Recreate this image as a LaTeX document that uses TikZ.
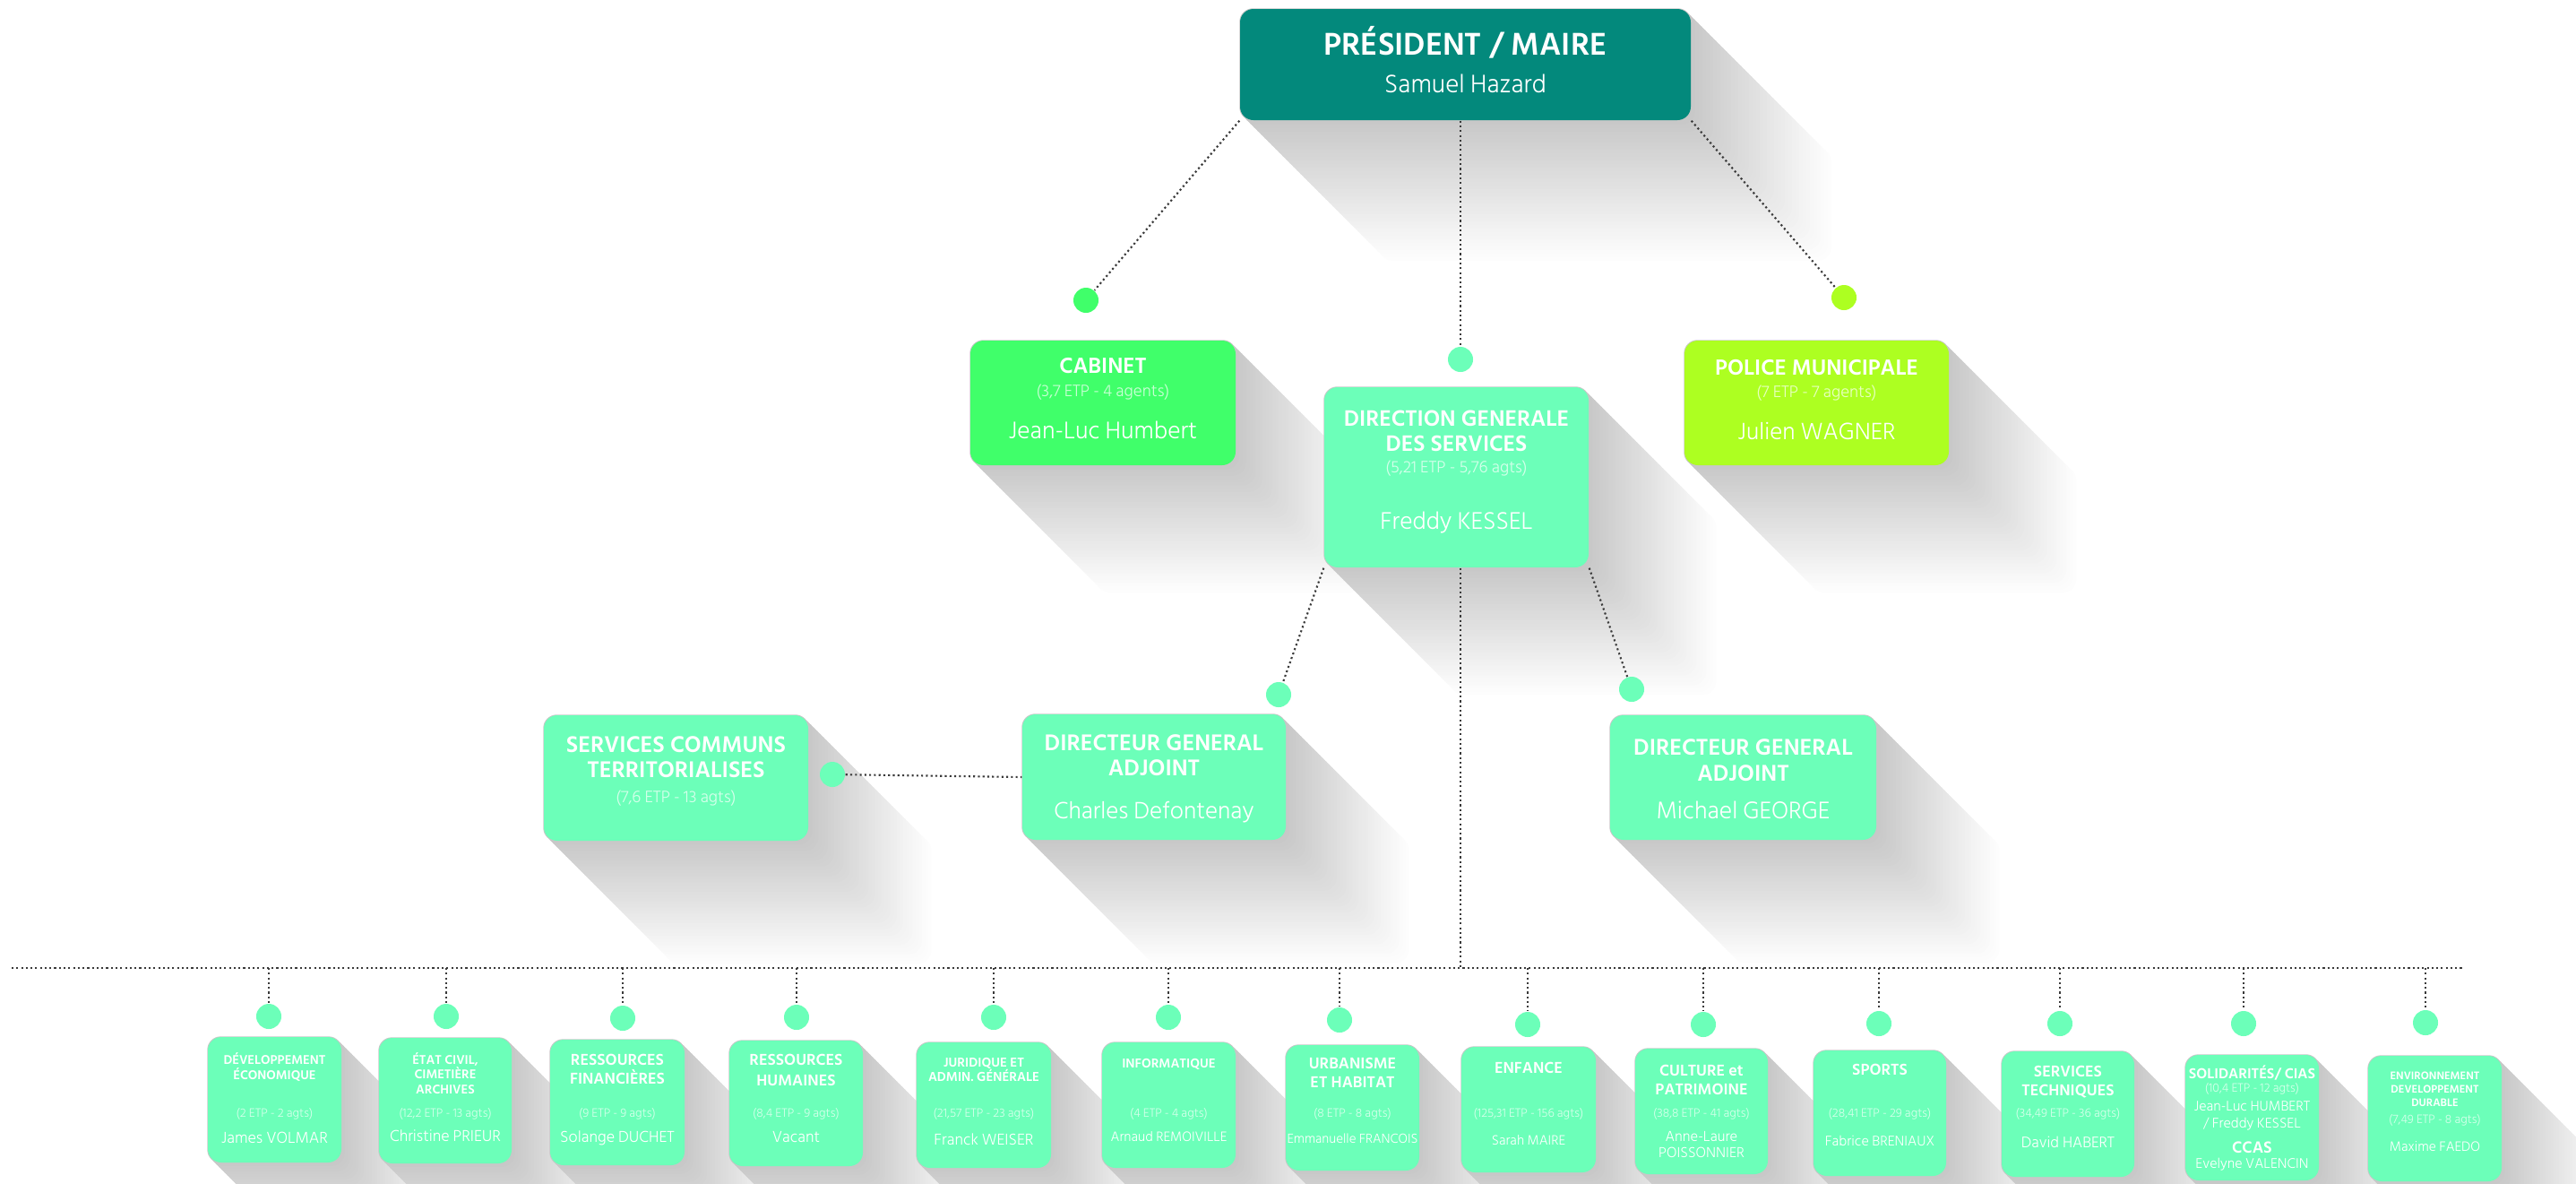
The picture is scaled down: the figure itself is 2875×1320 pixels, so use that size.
\documentclass[tikz,border=0pt]{standalone}
\usepackage{fontspec}
\setmainfont{Hind Siliguri}
\newfontfamily\lightfont{Hind Siliguri Light}
\pgfdeclarelayer{shadows}
\pgfsetlayers{shadows,main}
\definecolor{cTeal}{HTML}{03897C}
\definecolor{cCab}{HTML}{40FF6A}
\definecolor{cMint}{HTML}{6CFFB9}
\definecolor{cLime}{HTML}{ADFF21}
\definecolor{cLine}{HTML}{3A3A3A}
\newcommand\fpx[1]{\fontsize{\fpeval{#1*0.28453}pt}{\fpeval{#1*0.33}pt}\selectfont}
\newcounter{lb}
\newcommand\cardbox[6]{\node[card, fill=#6, minimum width={(#4-#2)*0.01cm}, minimum height={(#5-#3)*0.01cm}] (#1) at ({(#2+#4)/2},{(#3+#5)/2}) {};\xdef\cx{\fpeval{(#2+#4)/2}}}
\newcommand\tl[3]{\stepcounter{lb}\node[#1] (lbl\thelb) at (\cx,#2) {#3};}
\newcommand\lshadow[2]{%
  \foreach \k in {40,39,...,0}{%
    \pgfmathsetmacro\sh{#2*\k/40}%
    \pgfmathsetmacro\cc{22*(1-\k/40)}%
    \fill[black!\cc, rounded corners=0.15cm] ([shift={(\sh,\sh)}]#1.north west) rectangle ([shift={(\sh,\sh)}]#1.south east);
  }}
\tikzset{
  card/.style={rectangle, rounded corners=0.15cm, inner sep=0pt, draw=none},
  dot/.style={circle, inner sep=0pt, minimum size=0.28cm, fill=cMint},
  conn/.style={draw=cLine, line width=0.6pt, dash pattern=on 0.6pt off 0.9pt},
  lbl/.style={anchor=base, inner sep=0pt, text=white},
  ttl/.style={lbl, font=\bfseries\fpx{#1}},
  etp/.style={lbl, text opacity=0.72, font=\lightfont\fpx{#1}},
  nm/.style={lbl, font=\lightfont\fpx{#1}},
}
\begin{document}
\begin{tikzpicture}[x=0.01cm,y=-0.01cm]
\useasboundingbox (0,0) rectangle (2875,1320);
% ---------- cards ----------
\cardbox{pres}{1384}{10}{1887}{134}{cTeal}
\tl{ttl=36}{61}{PRÉSIDENT / MAIRE}
\tl{nm=29}{103}{Samuel Hazard}
\cardbox{cab}{1083}{380}{1379}{519}{cCab}
\tl{ttl=25}{416}{CABINET}
\tl{etp=19}{442}{(3,7 ETP - 4 agents)}
\tl{nm=27.5}{489}{Jean-Luc Humbert}
\cardbox{dgs}{1478}{432}{1773}{633}{cMint}
\tl{ttl=25.5}{475}{DIRECTION GENERALE}
\tl{ttl=25.5}{503}{DES SERVICES}
\tl{etp=19}{527}{(5,21 ETP - 5,76 agts)}
\tl{nm=27.5}{590}{Freddy KESSEL}
\cardbox{pol}{1880}{380}{2175}{519}{cLime}
\tl{ttl=25}{418}{POLICE MUNICIPALE}
\tl{etp=19}{443}{(7 ETP - 7 agents)}
\tl{nm=27}{490}{Julien WAGNER}
\cardbox{scom}{607}{798}{902}{938}{cMint}
\tl{ttl=26}{839}{SERVICES COMMUNS}
\tl{ttl=26}{867}{TERRITORIALISES}
\tl{etp=19}{895}{(7,6 ETP - 13 agts)}
\cardbox{dgaL}{1141}{797}{1435}{937}{cMint}
\tl{ttl=26}{837}{DIRECTEUR GENERAL}
\tl{ttl=26}{865}{ADJOINT}
\tl{nm=27}{913}{Charles Defontenay}
\cardbox{dgaR}{1797}{798}{2094}{937}{cMint}
\tl{ttl=26}{842}{DIRECTEUR GENERAL}
\tl{ttl=26}{871}{ADJOINT}
\tl{nm=27.5}{913}{Michael GEORGE}
% bottom row
\cardbox{b1}{232}{1157}{381}{1297}{cMint}
\tl{ttl=14.5}{1187}{DÉVELOPPEMENT}
\tl{ttl=14.5}{1204}{ÉCONOMIQUE}
\tl{etp=14}{1246}{(2 ETP - 2 agts)}
\tl{nm=18}{1275}{James VOLMAR}
\cardbox{b2}{423}{1158}{571}{1298}{cMint}
\tl{ttl=14.5}{1187}{ÉTAT CIVIL,}
\tl{ttl=14.5}{1203}{CIMETIÈRE}
\tl{ttl=14.5}{1220}{ARCHIVES}
\tl{etp=14}{1246}{(12,2 ETP - 13 agts)}
\tl{nm=18}{1273}{Christine PRIEUR}
\cardbox{b3}{614}{1160}{764}{1300}{cMint}
\tl{ttl=18}{1188}{RESSOURCES}
\tl{ttl=18}{1209}{FINANCIÈRES}
\tl{etp=14}{1246}{(9 ETP - 9 agts)}
\tl{nm=18}{1274}{Solange DUCHET}
\cardbox{b4}{814}{1161}{963}{1301}{cMint}
\tl{ttl=18}{1188}{RESSOURCES}
\tl{ttl=18}{1211}{HUMAINES}
\tl{etp=14}{1246}{(8,4 ETP - 9 agts)}
\tl{nm=18}{1274}{Vacant}
\cardbox{b5}{1023}{1163}{1173}{1303}{cMint}
\tl{ttl=14.8}{1190}{JURIDIQUE ET}
\tl{ttl=14.8}{1206}{ADMIN. GÉNÉRALE}
\tl{etp=14}{1246}{(21,57 ETP - 23 agts)}
\tl{nm=18}{1277}{Franck WEISER}
\cardbox{b6}{1230}{1163}{1379}{1303}{cMint}
\tl{ttl=14.8}{1191}{INFORMATIQUE}
\tl{etp=14}{1246}{(4 ETP - 4 agts)}
\tl{nm=15.5}{1273}{Arnaud REMOIVILLE}
\cardbox{b7}{1435}{1166}{1584}{1306}{cMint}
\tl{ttl=18}{1192}{URBANISME}
\tl{ttl=18}{1213}{ET HABITAT}
\tl{etp=14}{1246}{(8 ETP - 8 agts)}
\tl{nm=15}{1275}{Emmanuelle FRANCOIS}
\cardbox{b8}{1631}{1168}{1781}{1308}{cMint}
\tl{ttl=18}{1197}{ENFANCE}
\tl{etp=14}{1246}{(125,31 ETP - 156 agts)}
\tl{nm=15.5}{1277}{Sarah MAIRE}
\cardbox{b9}{1825}{1170}{1973}{1310}{cMint}
\tl{ttl=18}{1200}{CULTURE et}
\tl{ttl=18}{1221}{PATRIMOINE}
\tl{etp=14}{1246}{(38,8 ETP - 41 agts)}
\tl{nm=16.5}{1273}{Anne-Laure}
\tl{nm=16.5}{1291}{POISSONNIER}
\cardbox{b10}{2024}{1172}{2172}{1312}{cMint}
\tl{ttl=18}{1199}{SPORTS}
\tl{etp=14}{1246}{(28,41 ETP - 29 agts)}
\tl{nm=16}{1278}{Fabrice BRENIAUX}
\cardbox{b11}{2234}{1173}{2382}{1313}{cMint}
\tl{ttl=18}{1201}{SERVICES}
\tl{ttl=18}{1222}{TECHNIQUES}
\tl{etp=14}{1246}{(34,49 ETP - 36 agts)}
\tl{nm=17.5}{1280}{David HABERT}
\cardbox{b12}{2439}{1177}{2588}{1317}{cMint}
\tl{ttl=16.5}{1203}{SOLIDARITÉS/ CIAS}
\tl{etp=14}{1218}{(10,4 ETP - 12 agts)}
\tl{nm=16}{1239}{Jean-Luc HUMBERT}
\tl{nm=16}{1258}{/ Freddy KESSEL}
\tl{ttl=18.5}{1286}{CCAS}
\tl{nm=16}{1303}{Evelyne VALENCIN}
\cardbox{b13}{2643}{1178}{2792}{1318}{cMint}
\tl{ttl=12.5}{1204}{ENVIRONNEMENT}
\tl{ttl=12.5}{1219}{DEVELOPPEMENT}
\tl{ttl=12.5}{1234}{DURABLE}
\tl{etp=14}{1253}{(7,49 ETP - 8 agts)}
\tl{nm=15.5}{1284}{Maxime FAEDO}
% ---------- dots ----------
\node[dot, fill=cCab] (dcab) at (1212,335) {};
\node[dot] (ddgs) at (1630,401) {};
\node[dot, fill=cLime] (dpol) at (2058,332) {};
\node[dot] (ddgaL) at (1427,775) {};
\node[dot] (ddgaR) at (1821,769) {};
\node[dot] (dscom) at (929,864) {};
\node[dot] (d1) at (300,1134) {};
\node[dot] (d2) at (498,1134) {};
\node[dot] (d3) at (695,1136) {};
\node[dot] (d4) at (889,1135) {};
\node[dot] (d5) at (1109,1135) {};
\node[dot] (d6) at (1304,1135) {};
\node[dot] (d7) at (1495,1138) {};
\node[dot] (d8) at (1705,1143) {};
\node[dot] (d9) at (1901,1143) {};
\node[dot] (d10) at (2097,1142) {};
\node[dot] (d11) at (2299,1142) {};
\node[dot] (d12) at (2504,1142) {};
\node[dot] (d13) at (2707,1141) {};
% ---------- connectors ----------
\coordinate (hlL) at (13,1080);
\coordinate (hlR) at (2748,1080);
\draw[conn] (hlL) -- (hlR);
\draw[conn] (pres.south west) -- (dcab);
\draw[conn] (pres.south -| ddgs) -- (ddgs);
\draw[conn] (pres.south east) -- (dpol);
\draw[conn] (dgs.south west) -- (ddgaL);
\draw[conn] (dgs.south east) -- (ddgaR);
\draw[conn] (dgs.south -| ddgs) -- (hlL -| ddgs);
\draw[conn] (dscom) -- (dgaL.west);
\foreach \i in {1,...,13}{\draw[conn] (hlL -| d\i) -- (d\i);}
% ---------- long shadows ----------
\begin{pgfonlayer}{shadows}
\fill[white] (0,0) rectangle (2875,1320);
\lshadow{pres}{160}
\lshadow{cab}{145}
\lshadow{dgs}{145}
\lshadow{pol}{145}
\lshadow{scom}{140}
\lshadow{dgaL}{140}
\lshadow{dgaR}{140}
\foreach \i in {1,...,13}{\lshadow{b\i}{120}}
\end{pgfonlayer}
\end{tikzpicture}
\end{document}
